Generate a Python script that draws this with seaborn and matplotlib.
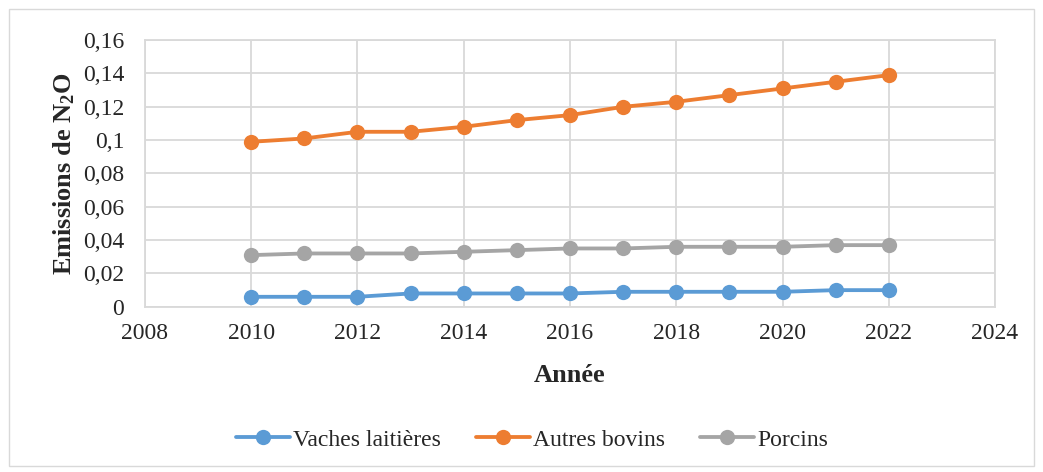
import matplotlib
matplotlib.use("Agg")
import matplotlib.pyplot as plt
import matplotlib.ticker as mticker
import seaborn as sns
import pandas as pd
from matplotlib.patches import Rectangle

# --- data ---
annees = [2010, 2011, 2012, 2013, 2014, 2015, 2016, 2017, 2018, 2019, 2020, 2021, 2022]
vaches_laitieres = [0.006, 0.006, 0.006, 0.008, 0.008, 0.008, 0.008, 0.009, 0.009, 0.009, 0.009, 0.010, 0.010]
autres_bovins = [0.099, 0.101, 0.105, 0.105, 0.108, 0.112, 0.115, 0.120, 0.123, 0.127, 0.131, 0.135, 0.139]
porcins = [0.031, 0.032, 0.032, 0.032, 0.033, 0.034, 0.035, 0.035, 0.036, 0.036, 0.036, 0.037, 0.037]
series = ["Vaches laitières", "Autres bovins", "Porcins"]
couleurs = ["#5B9BD5", "#ED7D31", "#A5A5A5"]

df = pd.DataFrame({
    "Année": annees * 3,
    "valeur": vaches_laitieres + autres_bovins + porcins,
    "serie": [s for s in series for _ in annees],
})

sns.set_style("white")
plt.rcParams["font.family"] = ["Liberation Serif", "DejaVu Serif"]
plt.rcParams["mathtext.fontset"] = "custom"
plt.rcParams["mathtext.rm"] = "Liberation Serif:bold"
plt.rcParams["mathtext.it"] = "Liberation Serif:bold"
plt.rcParams["mathtext.bf"] = "Liberation Serif:bold"

fig = plt.figure(figsize=(10.43, 4.72), dpi=100)
ax = fig.add_axes([0.139, 0.350, 0.815, 0.565])

sns.lineplot(data=df, x="Année", y="valeur", hue="serie", palette=couleurs,
             marker="o", markersize=11, markeredgewidth=0, linewidth=2.75,
             ax=ax, legend=False)

ax.set_xlim(2008, 2024)
ax.set_ylim(0, 0.16)
ax.xaxis.set_major_locator(mticker.MultipleLocator(2))
ax.yaxis.set_major_locator(mticker.MultipleLocator(0.02))
ax.yaxis.set_major_formatter(mticker.FuncFormatter(
    lambda v, p: ("%g" % round(v, 2)).replace(".", ",")))

ax.grid(True, color="#d9d9d9", linewidth=1.3)
for s in ax.spines.values():
    s.set_color("#d9d9d9")
    s.set_linewidth(1.3)
ax.tick_params(axis="both", labelsize=17, length=0)
ax.tick_params(axis="y", pad=15)
ax.tick_params(axis="x", pad=12)

ax.set_xlabel("Année", fontsize=19, fontweight="bold", labelpad=14)
ax.set_ylabel("Emissions de N$_2$O", fontsize=19, fontweight="bold", labelpad=4)

handles = [plt.Line2D([], [], color=c, marker="o", markersize=11,
                      markeredgewidth=0, linewidth=2.75) for c in couleurs]
fig.legend(handles, series, loc="center", bbox_to_anchor=(0.51, 0.068),
           ncol=3, frameon=False, fontsize=17, handlelength=2.3,
           handletextpad=0.15, columnspacing=1.45)

fig.patches.append(Rectangle((0.009, 0.012), 0.982, 0.968, transform=fig.transFigure,
                             fill=False, edgecolor="#d9d9d9", linewidth=1))

fig.savefig("out.png", dpi=100)
